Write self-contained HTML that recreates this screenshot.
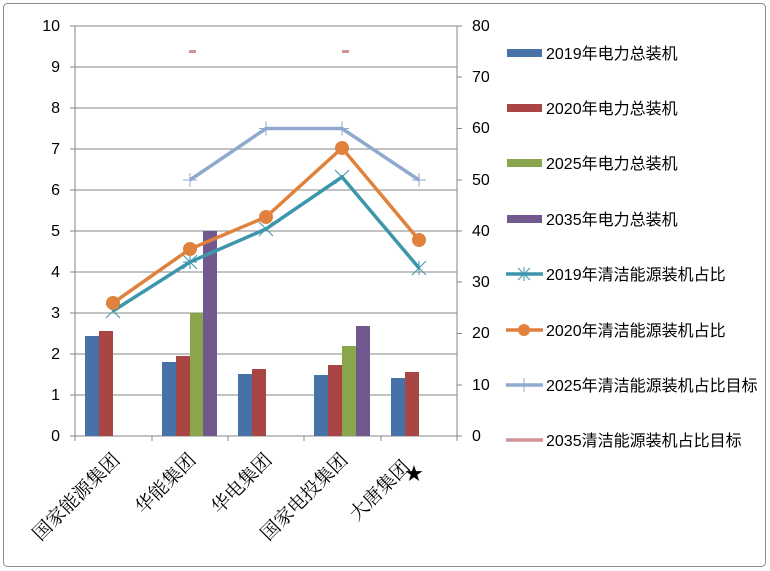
<!DOCTYPE html>
<html><head><meta charset="utf-8"><style>
body{margin:0;background:#fff}
svg{display:block;font-family:"Liberation Sans","Noto Sans CJK SC",sans-serif}
</style></head><body>
<svg width="770" height="571" viewBox="0 0 770 571">
<rect x="3.5" y="3.5" width="762" height="563" rx="4" fill="#fff" stroke="#8c8c8c"/>
<g stroke="#868686" stroke-width="1">
<line x1="75" y1="26" x2="457" y2="26"/><line x1="75" y1="67" x2="457" y2="67"/><line x1="75" y1="108" x2="457" y2="108"/><line x1="75" y1="149" x2="457" y2="149"/><line x1="75" y1="190" x2="457" y2="190"/><line x1="75" y1="231" x2="457" y2="231"/><line x1="75" y1="272" x2="457" y2="272"/><line x1="75" y1="313" x2="457" y2="313"/><line x1="75" y1="354" x2="457" y2="354"/><line x1="75" y1="395" x2="457" y2="395"/>
<line x1="75" y1="26" x2="75" y2="441"/><line x1="457" y1="26" x2="457" y2="441"/>
<line x1="70" y1="436" x2="462" y2="436"/>
<line x1="70" y1="26" x2="75" y2="26"/><line x1="70" y1="67" x2="75" y2="67"/><line x1="70" y1="108" x2="75" y2="108"/><line x1="70" y1="149" x2="75" y2="149"/><line x1="70" y1="190" x2="75" y2="190"/><line x1="70" y1="231" x2="75" y2="231"/><line x1="70" y1="272" x2="75" y2="272"/><line x1="70" y1="313" x2="75" y2="313"/><line x1="70" y1="354" x2="75" y2="354"/><line x1="70" y1="395" x2="75" y2="395"/>
<line x1="457" y1="26" x2="462" y2="26"/><line x1="457" y1="77" x2="462" y2="77"/><line x1="457" y1="128.5" x2="462" y2="128.5"/><line x1="457" y1="180" x2="462" y2="180"/><line x1="457" y1="231" x2="462" y2="231"/><line x1="457" y1="282" x2="462" y2="282"/><line x1="457" y1="333.5" x2="462" y2="333.5"/><line x1="457" y1="385" x2="462" y2="385"/>
<line x1="152" y1="436" x2="152" y2="441"/><line x1="228" y1="436" x2="228" y2="441"/><line x1="304" y1="436" x2="304" y2="441"/><line x1="381" y1="436" x2="381" y2="441"/>
</g>
<g font-size="16" fill="#000" text-anchor="end">
<text x="60" y="31">10</text><text x="60" y="72">9</text><text x="60" y="113">8</text><text x="60" y="154">7</text><text x="60" y="195">6</text><text x="60" y="236">5</text><text x="60" y="277">4</text><text x="60" y="318">3</text><text x="60" y="359">2</text><text x="60" y="400">1</text><text x="60" y="441">0</text>
</g>
<g font-size="16" fill="#000">
<text x="472" y="31">80</text><text x="472" y="82">70</text><text x="472" y="133">60</text><text x="472" y="185">50</text><text x="472" y="236">40</text><text x="472" y="287">30</text><text x="472" y="338">20</text><text x="472" y="390">10</text><text x="472" y="441">0</text>
</g>
<g>
<rect x="85" y="336" width="14" height="100" fill="#4672a8"/><rect x="99" y="331" width="14" height="105" fill="#a94543"/>
<rect x="162" y="362" width="14" height="74" fill="#4672a8"/><rect x="176" y="356" width="14" height="80" fill="#a94543"/><rect x="190" y="313" width="13" height="123" fill="#8aa64d"/><rect x="203" y="231" width="14" height="205" fill="#71588f"/>
<rect x="238" y="374" width="14" height="62" fill="#4672a8"/><rect x="252" y="369" width="14" height="67" fill="#a94543"/>
<rect x="314" y="375" width="14" height="61" fill="#4672a8"/><rect x="328" y="365" width="14" height="71" fill="#a94543"/><rect x="342" y="346" width="14" height="90" fill="#8aa64d"/><rect x="356" y="326" width="14" height="110" fill="#71588f"/>
<rect x="391" y="378" width="14" height="58" fill="#4672a8"/><rect x="405" y="372" width="14" height="64" fill="#a94543"/>
</g>
<polyline points="190,180 266,128.5 342,128.5 419,180" fill="none" stroke="#8fa9cf" stroke-width="3.5"/>
<g stroke="#8fa9cf" stroke-width="1"><path d="M183,180h14M190,173v14M259,128.5h14M266,121.5v14M335,128.5h14M342,121.5v14M412,180h14M419,173v14"/></g>
<polyline points="113,311 190,262 266,229 342,177 419,268" fill="none" stroke="#3d96ab" stroke-width="3.5"/>
<g stroke="#3d96ab" stroke-width="1"><path d="M106,304l14,14M120,304l-14,14M190,255v14M183,262h14M183,255l14,14M197,255l-14,14M259,222l14,14M273,222l-14,14M335,170l14,14M349,170l-14,14M412,261l14,14M426,261l-14,14M419,261v14"/></g>
<polyline points="113,303 190,249 266,217 342,148 419,240" fill="none" stroke="#e0823d" stroke-width="3.5"/>
<g fill="#e0823d"><circle cx="113" cy="303" r="7"/><circle cx="190" cy="249" r="7"/><circle cx="266" cy="217" r="7"/><circle cx="342" cy="148" r="7"/><circle cx="419" cy="240" r="7"/></g>
<rect x="189" y="50" width="7" height="3" fill="#d09494"/><rect x="342" y="50" width="7" height="3" fill="#d09494"/>
<g font-size="19" fill="#000" text-anchor="end" style="font-family:'Liberation Serif','Noto Serif CJK SC',serif">
<text transform="translate(121,461) rotate(-45)">国家能源集团</text>
<text transform="translate(197,461) rotate(-45)">华能集团</text>
<text transform="translate(273,461) rotate(-45)">华电集团</text>
<text transform="translate(349,461) rotate(-45)">国家电投集团</text>
<text transform="translate(411,468) rotate(-45)">大唐集团</text>
<text x="405" y="480" font-size="18" text-anchor="start">★</text>
</g>
<g font-size="16" fill="#000">
<rect x="507" y="49" width="35" height="8" fill="#4672a8"/><text x="546" y="59">2019年电力总装机</text>
<rect x="507" y="104" width="35" height="8" fill="#a94543"/><text x="546" y="114">2020年电力总装机</text>
<rect x="507" y="159" width="35" height="8" fill="#8aa64d"/><text x="546" y="169">2025年电力总装机</text>
<rect x="507" y="215" width="35" height="8" fill="#71588f"/><text x="546" y="225">2035年电力总装机</text>
<line x1="506" y1="274" x2="543" y2="274" stroke="#3d96ab" stroke-width="3.5"/><path d="M518,268l12,12M530,268l-12,12M524,267v14" stroke="#3d96ab"/><text x="546" y="280">2019年清洁能源装机占比</text>
<line x1="506" y1="330" x2="543" y2="330" stroke="#e0823d" stroke-width="3.5"/><circle cx="524" cy="330" r="6" fill="#e0823d"/><text x="546" y="336">2020年清洁能源装机占比</text>
<line x1="506" y1="385" x2="543" y2="385" stroke="#8fa9cf" stroke-width="3.5"/><path d="M524,378v14" stroke="#8fa9cf"/><text x="546" y="391">2025年清洁能源装机占比目标</text>
<line x1="506" y1="440" x2="543" y2="440" stroke="#d09494" stroke-width="3.5"/><text x="546" y="446">2035清洁能源装机占比目标</text>
</g>
</svg>
</body></html>
